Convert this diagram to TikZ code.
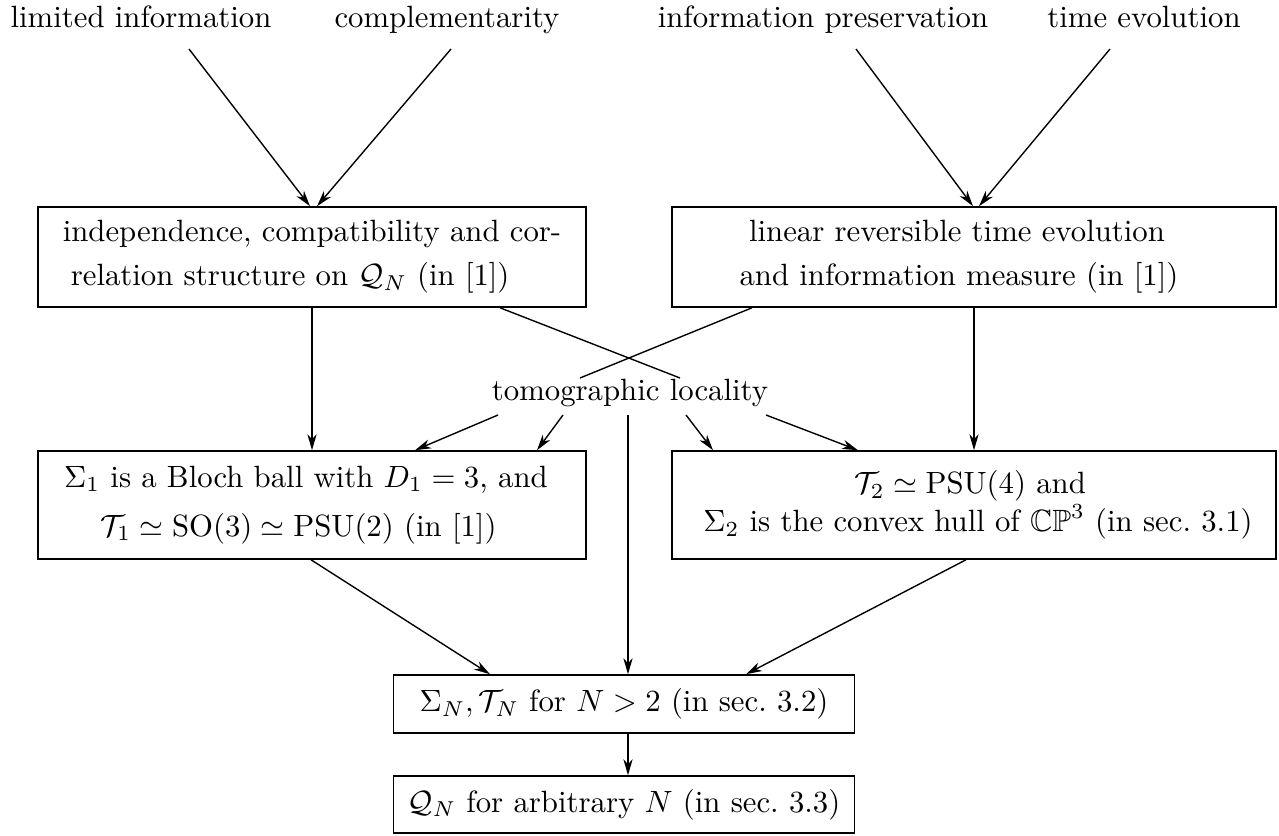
\documentclass[tikz,border=0pt]{standalone}
\usepackage{amsmath,amssymb}
\usetikzlibrary{arrows.meta,calc}
\newlength\px
\setlength\px{0.325pt}
\begin{document}
\begin{tikzpicture}[x=0.325pt,y=-0.325pt,
  lbl/.style={inner sep=0pt, anchor=base},
  box/.style={draw, line width=0.5pt, inner xsep=0pt, inner ysep=0pt, align=center},
  arr/.style={line width=0.45pt, -{Stealth[length=5.2pt,width=3pt,inset=1.6pt]}},
  ln/.style={line width=0.45pt}]
\useasboundingbox (0,0) rectangle (1279,835);

% top labels
\node[lbl] (lim)  at (141,27)  {limited information};
\node[lbl] (comp) at (447,27)  {complementarity};
\node[lbl] (pres) at (823,27)  {information preservation};
\node[lbl] (time) at (1144,27) {time evolution};

% first row boxes
\node[box, align=left, minimum width=548*\px, minimum height=100*\px] (b1) at (312,257)
  {independence, compatibility and cor-\\[2.3pt]\hspace*{8\px}relation structure on $\mathcal{Q}_N$ (in [1])};
\node[box, minimum width=604*\px, minimum height=100*\px] (b2) at (974,257)
  {\hspace*{-34\px}linear reversible time evolution\\[2.3pt]\hspace*{-30\px}and information measure (in [1])};

% middle label
\node[lbl] (tl) at (630,400) {tomographic locality};

% second row boxes
\node[box, minimum width=548*\px, minimum height=108*\px] (b3) at (312,505)
  {\hspace*{-12\px}$\Sigma_1$ is a Bloch ball with $D_1=3$, and\\[3.9pt]\hspace*{-27\px}$\mathcal{T}_1\simeq\mathrm{SO}(3)\simeq\mathrm{PSU}(2)$ (in [1])};
\node[box, minimum width=604*\px, minimum height=108*\px] (b4) at (974,505)
  {\hspace*{-8\px}$\mathcal{T}_2\simeq\mathrm{PSU}(4)$ and\\[0.4pt]\hspace*{8\px}$\Sigma_2$ is the convex hull of $\mathbb{CP}^3$ (in sec.\ 3.1)};

% bottom boxes
\node[box, minimum width=461*\px, minimum height=58*\px] (sn) at (624,704)
  {$\Sigma_N,\mathcal{T}_N$ for $N>2$ (in sec.\ 3.2)};
\node[box, minimum width=461*\px, minimum height=57*\px] (qn) at (624,804.5)
  {$\mathcal{Q}_N$ for arbitrary $N$ (in sec.\ 3.3)};

% connectors from top labels
\draw[arr] ([xshift=48*\px,yshift=-22*\px]lim.base)  -- ([xshift=-2*\px]b1.north);
\draw[arr] ([xshift=4*\px,yshift=-22*\px]comp.base)  -- ([xshift=5*\px]b1.north);
\draw[arr] ([xshift=33*\px,yshift=-22*\px]pres.base) -- ([xshift=-1*\px]b2.north);
\draw[arr] ([xshift=-34*\px,yshift=-22*\px]time.base) -- ([xshift=5*\px]b2.north);

% verticals first row -> second row
\draw[arr] (b1.south) -- (b3.north);
\draw[arr] (b2.south) -- (b4.north);

% crossing lines into tomographic locality
\draw[ln] ([xshift=188*\px]b1.south)  -- ([xshift=50*\px,yshift=22*\px]tl.base);
\draw[ln] ([xshift=-222*\px]b2.south) -- ([xshift=-50*\px,yshift=22*\px]tl.base);

% arrows out of tomographic locality
\draw[arr] ([xshift=-132*\px,yshift=-15*\px]tl.base) -- ([xshift=103*\px]b3.north);
\draw[arr] ([xshift=-67*\px,yshift=-15*\px]tl.base)  -- ([xshift=225*\px]b3.north);
\draw[arr] ([xshift=-2*\px,yshift=-15*\px]tl.base)   -- ([xshift=4*\px]sn.north);
\draw[arr] ([xshift=56*\px,yshift=-15*\px]tl.base)   -- ([xshift=-261*\px]b4.north);
\draw[arr] ([xshift=136*\px,yshift=-15*\px]tl.base)  -- ([xshift=-116*\px]b4.north);

% second row -> Sigma_N
\draw[arr] ([xshift=-1*\px]b3.south) -- ([xshift=-134*\px]sn.north);
\draw[arr] ([xshift=-8*\px]b4.south) -- ([xshift=122*\px]sn.north);
\draw[arr] ([xshift=4*\px]sn.south)  -- ([xshift=4*\px]qn.north);
\end{tikzpicture}
\end{document}
